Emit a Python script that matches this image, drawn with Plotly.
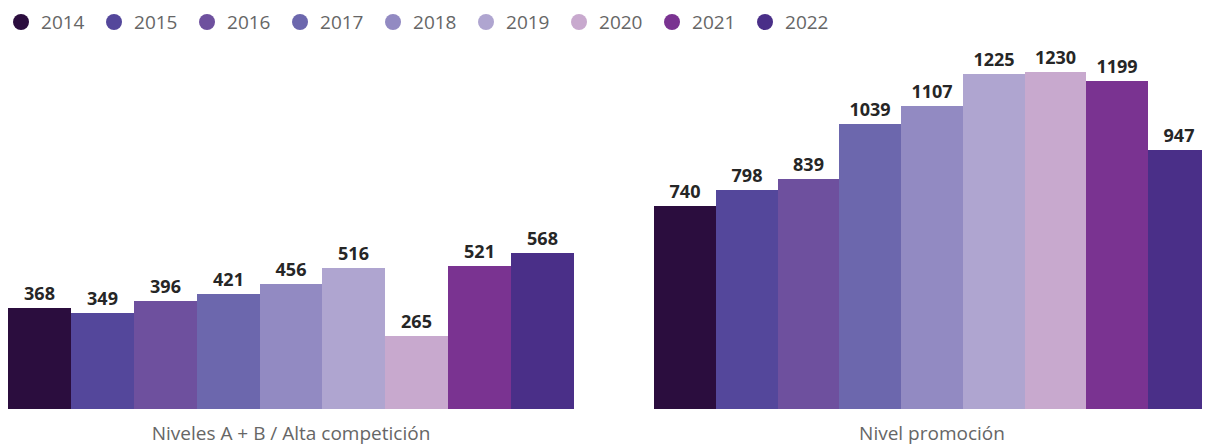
import plotly.graph_objects as go

years = ["2014", "2015", "2016", "2017", "2018", "2019", "2020", "2021", "2022"]
colors = ["#2B0D3E", "#54479B", "#6E509E", "#6C67AD", "#928AC2",
          "#AFA5D0", "#C8A9CE", "#7A3391", "#4A2F88"]
categories = ["Niveles A + B / Alta competición", "Nivel promoción"]
alta = [368, 349, 396, 421, 456, 516, 265, 521, 568]
promocion = [740, 798, 839, 1039, 1107, 1225, 1230, 1199, 947]

fig = go.Figure()

label_font = dict(size=18, color="#262626", family="Open Sans", weight="bold")

for i, yr in enumerate(years):
    # left panel
    fig.add_trace(go.Bar(x=[categories[0]], y=[alta[i]], marker_color=colors[i],
                         marker_line_width=0,
                         text=[alta[i]], textposition="outside", cliponaxis=False,
                         textfont=label_font,
                         showlegend=False, xaxis="x", yaxis="y", offsetgroup=yr))
    # right panel
    fig.add_trace(go.Bar(x=[categories[1]], y=[promocion[i]], marker_color=colors[i],
                         marker_line_width=0,
                         text=[promocion[i]], textposition="outside", cliponaxis=False,
                         textfont=label_font,
                         showlegend=False, xaxis="x2", yaxis="y2", offsetgroup=yr))
    # legend entry with round marker
    fig.add_trace(go.Scatter(x=[None], y=[None], mode="markers", name=yr,
                             marker=dict(color=colors[i], size=18, symbol="circle"),
                             xaxis="x", yaxis="y"))

axis_y = dict(range=[0, 1300], visible=False, showgrid=False)
axis_x = dict(showline=False, showgrid=False, ticks="outside", ticklen=7,
              tickcolor="rgba(0,0,0,0)", tickfont=dict(size=19, color="#666666"))

# page has an 8px body margin, so the figure is sized to end at the window edge
fig.update_layout(
    width=1202, height=439,
    margin=dict(l=0, r=0, t=45, b=38, autoexpand=False),
    paper_bgcolor="white", plot_bgcolor="white",
    font=dict(family="Open Sans", color="#666666"),
    barmode="group", bargap=0, bargroupgap=0,
    uniformtext=dict(minsize=10, mode="show"),
    xaxis=dict(domain=[0, 566 / 1202], **axis_x),
    xaxis2=dict(domain=[646 / 1202, 1.0], **axis_x),
    yaxis=dict(anchor="x", **axis_y),
    yaxis2=dict(anchor="x2", **axis_y),
    legend=dict(orientation="h", x=-0.0058, y=1.14, yanchor="top",
                xanchor="left", font=dict(size=19, color="#666666"),
                itemwidth=30, entrywidth=48, traceorder="normal"),
)

fig.write_html("out.html")
